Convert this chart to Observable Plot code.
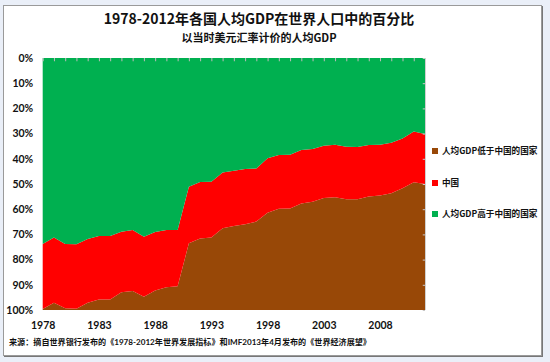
<!DOCTYPE html>
<html>
<head>
<meta charset="utf-8">
<script src="https://cdn.jsdelivr.net/npm/d3@7"></script>
<script src="https://cdn.jsdelivr.net/npm/@observablehq/plot@0.6"></script>
<style>
  html, body { margin: 0; padding: 0; }
  body { width: 550px; height: 362px; background: #eaeff8; position: relative; overflow: hidden;
         font-family: "Noto Sans CJK SC", Lato, sans-serif; }
  #frame { position: absolute; left: 3px; top: 5px; width: 537px; height: 349px; background: #fff;
           border: 1px solid #9a9a9a; box-shadow: 1px 1px 0 #777; }
  #chart { position: absolute; left: 0; top: 0; }
  .title { position: absolute; left: 0; width: 518px; text-align: center; font-weight: bold; color: #111; white-space: nowrap; }
  #t1 { top: 10px; font-size: 14px; line-height: 16px; }
  #t2 { top: 31px; font-size: 11px; line-height: 12px; }
  #legend { position: absolute; left: 432px; top: 0; }
  .li { position: absolute; left: 0; white-space: nowrap; font-size: 8.6px; font-weight: bold; color: #111; line-height: 12px; }
  .sw { display: inline-block; width: 6px; height: 6px; margin-right: 4px; vertical-align: 0px; }
  #caption { position: absolute; left: 9px; top: 337px; font-size: 8.1px; line-height: 11px; font-weight: bold; color: #111; white-space: nowrap;
             font-family: Lato, "Noto Sans CJK SC", sans-serif; }
</style>
</head>
<body>
<div id="frame"></div>
<div id="chart"></div>
<div class="title" id="t1">1978-2012年各国人均GDP在世界人口中的百分比</div>
<div class="title" id="t2">以当时美元汇率计价的人均GDP</div>
<div id="legend"></div>
<div id="caption">来源：摘自世界银行发布的《1978-2012年世界发展指标》和IMF2013年4月发布的《世界经济展望》</div>
<script>
const years = [1978,1979,1980,1981,1982,1983,1984,1985,1986,1987,1988,1989,1990,1991,1992,1993,1994,1995,1996,1997,1998,1999,2000,2001,2002,2003,2004,2005,2006,2007,2008,2009,2010,2011,2012];
// share of world population (%)
const lowerThanChina = [0.4,2.9,0.7,0.5,2.9,4.2,4.2,7.0,7.5,5.3,7.7,9.0,9.4,26.5,28.4,28.8,32.4,33.3,34.0,35.1,38.6,40.2,40.3,42.3,43.0,44.4,44.7,43.9,43.9,45.0,45.4,46.3,48.3,50.7,50.0];
const china = [25.8,25.9,25.5,25.6,25.3,25.2,25.2,24.1,24.2,23.8,23.3,22.7,22.3,22.4,22.4,22.1,22.2,22.0,22.0,21.1,21.6,21.3,21.3,21.2,20.9,20.8,20.9,20.9,20.8,20.5,20.2,20.1,19.8,20.1,19.8];
const higherThanChina = [73.8,71.2,73.8,73.9,71.8,70.6,70.6,68.9,68.3,70.9,69.0,68.3,68.3,51.1,49.2,49.1,45.4,44.7,44.0,43.8,39.8,38.5,38.4,36.5,36.1,34.8,34.4,35.2,35.3,34.5,34.4,33.6,31.9,29.2,30.2];

const seriesNames = ["人均GDP低于中国的国家", "中国", "人均GDP高于中国的国家"];
const seriesColors = ["#984807", "#ff0000", "#00b050"];
const stackOrder = ["人均GDP高于中国的国家", "中国", "人均GDP低于中国的国家"];
const xTickYears = [1978, 1983, 1988, 1993, 1998, 2003, 2008];
const yTicks = [0, 10, 20, 30, 40, 50, 60, 70, 80, 90, 100];

const seriesValues = [lowerThanChina, china, higherThanChina];
const rows = [];
seriesNames.forEach((name, si) => {
  years.forEach((yr, i) => rows.push({year: yr, series: name, value: seriesValues[si][i]}));
});

const plot = Plot.plot({
  width: 550,
  height: 362,
  marginLeft: 42.7,
  marginRight: 125,
  marginTop: 58,
  marginBottom: 52,
  style: {background: "transparent", fontFamily: "Lato, sans-serif", fontSize: "10.5px", fontWeight: "bold", color: "#111"},
  x: {domain: [1978, 2012], ticks: xTickYears, tickFormat: d => String(d), tickSize: 0, tickPadding: 11, label: null},
  y: {domain: [0, 100], reverse: true, ticks: yTicks, tickFormat: d => d + "%", tickSize: 0, tickPadding: 10, label: null},
  color: {domain: seriesNames, range: seriesColors},
  marks: [
    Plot.areaY(rows, {x: "year", y: "value", fill: "series", order: stackOrder}),
    Plot.ruleX(years, {x: d => d, y1: 0, y2: 1.3, stroke: "#bdbdbd", strokeWidth: 1}),
    Plot.ruleX([2012], {x: d => d, y1: 0, y2: 100, stroke: "#d0d0d0"}),
    Plot.ruleY(yTicks, {y: d => d, x1: 2011.8, x2: 2012, stroke: "#c8c8c8"})
  ]
});
document.getElementById("chart").appendChild(plot);

// legend (HTML, beside the chart)
const legendTops = [144, 176, 207];
const legend = document.getElementById("legend");
seriesNames.forEach((name, i) => {
  const item = document.createElement("div");
  item.className = "li";
  item.style.top = legendTops[i] + "px";
  const sw = document.createElement("span");
  sw.className = "sw";
  sw.style.background = seriesColors[i];
  item.appendChild(sw);
  item.appendChild(document.createTextNode(name));
  legend.appendChild(item);
});
</script>
</body>
</html>
